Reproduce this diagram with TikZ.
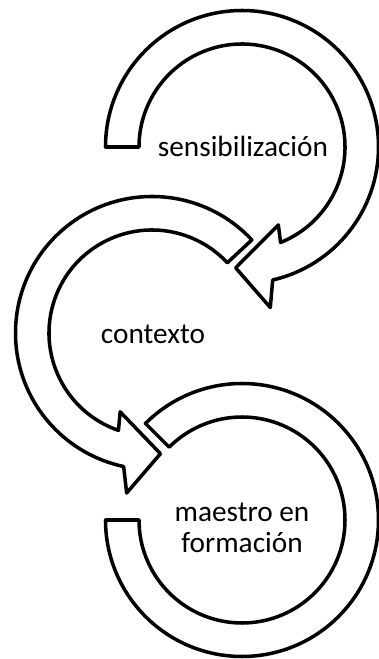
\documentclass[tikz,border=0pt]{standalone}
\usepackage{fontspec}
\setmainfont{Carlito}
\usetikzlibrary{calc}

\begin{document}
\begin{tikzpicture}[x=0.3mm, y=0.3mm,
	band/.style={draw, fill=white, line width=3pt, line join=round},
	steptext/.style={font=\fontsize{25}{27}\selectfont, align=center}]
	\useasboundingbox (0,0) rectangle (378,659);
	\coordinate (sens) at (242,512);
	\coordinate (cont) at (152,326);
	\coordinate (maes) at (242,139);
	% upper arrow
	\draw [band] ([shift={(sens)}]180:136.5) arc [start angle=180, end angle=-77, radius=136.5]
		-- ([shift={(sens)}]-80:163) -- ([shift={(sens)}]-93:121) -- ([shift={(sens)}]-65:86)
		-- ([shift={(sens)}]-68:103) arc [start angle=-68, end angle=180, radius=103] -- cycle;
	% middle arrow
	\draw [band] ([shift={(cont)}]43:136.5) arc [start angle=43, end angle=258, radius=136.5]
		-- ([shift={(cont)}]261:162) -- ([shift={(cont)}]274:121) -- ([shift={(cont)}]248:85)
		-- ([shift={(cont)}]251:103) arc [start angle=251, end angle=43, radius=103] -- cycle;
	% lower band
	\draw [band] ([shift={(maes)}]135:136.5) arc [start angle=135, end angle=-180, radius=136.5]
		-- ([shift={(maes)}]180:103) arc [start angle=-180, end angle=135, radius=103] -- cycle;
	\node [steptext, anchor=base] (senstext) at (243,502) {sensibilización};
	\node [steptext, anchor=base] (conttext) at (153,315) {contexto};
	\node [steptext, anchor=base] (maestext) at (242,106) {maestro en\\formación};
\end{tikzpicture}
\end{document}
